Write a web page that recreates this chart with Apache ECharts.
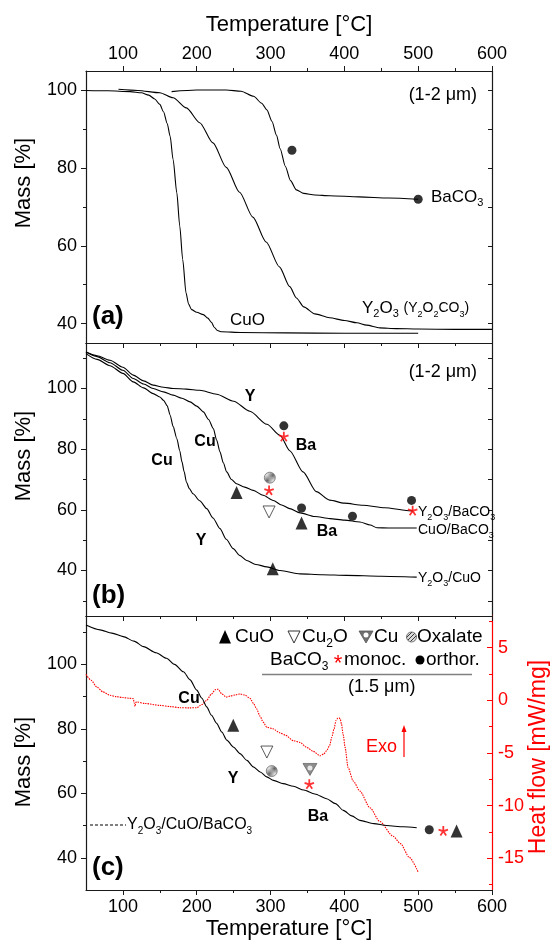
<!DOCTYPE html>
<html><head><meta charset="utf-8">
<script src="https://cdn.jsdelivr.net/npm/echarts@6/dist/echarts.min.js"></script>
<style>html,body{margin:0;padding:0;background:#fff}#c{width:555px;height:942px}</style>
</head><body><div id="c"></div>
<script>
// ---------------- DATA ----------------
const X_TICKS = [100, 200, 300, 400, 500, 600];
const X_MINOR = [150, 250, 350, 450, 550];
const Y_TICKS = [40, 60, 80, 100];
const Y_MINOR_A = [50, 70, 90];
const Y_MINOR_B = [30, 50, 70, 90, 110];
const Y_MINOR_C = [50, 70, 90, 110];
const Y_RIGHT_A = [40, 50, 60, 70, 80, 90, 100];
const Y_RIGHT_B = [30, 40, 50, 60, 70, 80, 90, 100, 110];
const HF_TICKS = [-15, -10, -5, 0, 5];
const HF_MINOR = [-17.5, -12.5, -7.5, -2.5, 2.5, 7.5];

// panel (a)
const T_A_CUO = [50, 80, 110, 125, 135, 143, 150, 155, 160, 164, 168, 173, 177, 181, 185.5, 189, 193, 200, 209, 215, 220, 224, 228, 234, 260, 320, 400, 500];
const M_A_CUO = [100, 99.9, 99.7, 99.4, 98.8, 97.8, 96.4, 94.5, 91.5, 88.2, 82.2, 73.7, 65.1, 56.5, 47.9, 45.0, 43.6, 42.9, 42.3, 41.4, 40.3, 39.0, 38.2, 37.9, 37.7, 37.6, 37.5, 37.5];
const T_A_Y = [94, 120, 150, 168, 186, 204, 222, 240, 258, 276, 294, 312, 326, 335, 345, 360, 380, 400, 417, 430, 448, 470, 500, 550, 600];
const M_A_Y = [100.3, 100.0, 99.4, 98.1, 95.5, 91.7, 86.5, 80.2, 73.8, 67.4, 61.0, 54.6, 49.5, 46.6, 44.3, 42.5, 41.5, 40.8, 40.2, 39.6, 38.9, 38.7, 38.6, 38.5, 38.5];
const T_A_BA = [166, 200, 240, 260, 277, 288, 295, 302, 308, 313, 320, 327, 335, 345, 360, 380, 420, 460, 500];
const M_A_BA = [99.7, 100.1, 100.1, 99.8, 98.5, 96.7, 95.0, 92.0, 88.5, 85.0, 80.5, 76.8, 74.4, 73.5, 73.1, 72.9, 72.6, 72.3, 72.0];
const DOTS_A = [[329, 84.6], [500, 72.0]];

// panel (b)
const T_B_YBA = [50, 65, 82.5, 100, 114, 128, 141, 155, 168, 186, 204, 227, 250, 272, 295, 313, 326, 344, 362, 380, 400, 425, 455, 484, 493];
const M_B_YBA = [112, 110.8, 109.3, 107, 104.4, 102.5, 101.1, 100.4, 100, 99.8, 99.4, 98.1, 95.8, 92.5, 88.2, 84.5, 79.5, 72.5, 66.0, 63.2, 62.2, 61.5, 60.7, 59.8, 59.6];
const T_B_CUBA = [50, 65, 82.5, 100, 114, 128, 141, 155, 168, 180, 191, 200, 209, 216, 222.5, 227, 231.5, 236, 240.6, 247, 254, 265, 276.6, 290, 303.7, 315, 326, 340, 360, 380.5, 400, 421, 435, 444, 460, 498];
const M_B_CUBA = [112, 110.5, 108.5, 106, 103.3, 101.5, 100, 98.9, 97.8, 96.8, 95.6, 94.2, 92.3, 89.8, 86.8, 83, 79.1, 75.5, 72.5, 70, 68.6, 67.5, 66.4, 64.8, 63.1, 61.6, 60.4, 59.0, 57.8, 57.1, 56.6, 56.0, 55.0, 54.1, 54.0, 54.0];
const T_B_YCU = [50, 65, 82.5, 100, 114, 128, 141, 150, 155, 160, 164, 168, 173, 177, 180, 183, 186, 190, 195, 204, 213.5, 222, 231.5, 240, 249.5, 258, 267.7, 280, 295, 313, 340, 370, 403, 450, 498];
const M_B_YCU = [111.5, 109.6, 107.5, 105, 102.2, 100.2, 98.3, 97.2, 96.1, 94.3, 91.2, 87.5, 83.5, 79.5, 75.8, 72.5, 69.2, 67, 65.3, 63, 60.4, 57.3, 53.8, 50.3, 47.2, 45, 43.3, 42, 41.2, 40, 38.9, 38.6, 38.4, 38.1, 37.8];
const DOTS_B = [[318, 87.7], [342, 60.6], [411, 57.9], [491, 63.1]];
const STARS_B = [[318, 84.1], [298, 66.4], [492.5, 59.7]];
const CUO_B = [[254, 65.7], [342, 55.7], [303, 40.6]];
const CU2O_B = [[298, 59.3]];
const OXAL_B = [[299, 70.6]];

// panel (c)
const T_C = [50, 69, 85, 100.5, 115, 128, 145, 159, 170, 182, 191, 200, 207, 213.5, 220, 227, 234, 240.6, 250, 258.6, 268, 276.6, 286, 294.8, 304, 317, 331, 345, 360, 376, 388, 398.6, 410, 421, 440, 457, 480, 498];
const M_C = [112.2, 110.7, 109.7, 108.6, 107.2, 105.5, 103.6, 101.9, 100, 97.7, 95.2, 92, 89.5, 86.8, 84.2, 81.7, 79.0, 76.5, 74.3, 72.3, 70.2, 68.2, 66.6, 65.1, 64.0, 63.0, 62.2, 61, 59.8, 58.3, 56.8, 54.7, 53, 51.6, 50.6, 50.0, 49.6, 49.3];
const T_HF = [50, 57, 64.5, 73, 82.5, 91, 100.5, 108, 114, 115.5, 116.4, 117.5, 118.6, 130, 150, 165, 177, 190, 200, 207, 213.5, 220, 225, 229, 234, 240, 245, 252, 258.6, 265, 272, 277, 281, 285.7, 290, 295, 303, 313, 320, 331, 340, 349, 358, 367, 372, 376, 380, 383, 386, 388.7, 391, 392.8, 394.5, 396, 398.5, 401, 405, 412, 421, 434.7, 448, 466, 476, 488, 500];
const H_HF = [2.46, 1.9, 1.27, 0.8, 0.48, 0.35, 0.26, 0.2, 0.16, -0.3, -0.57, -0.2, -0.16, -0.3, -0.48, -0.6, -0.7, -0.72, -0.7, -0.4, 0, 0.6, 1.0, 1.05, 0.6, 0.3, 0.4, 0.5, 0.6, 0.5, 0.2, -0.3, -0.8, -1.5, -2.07, -2.55, -2.7, -3.1, -3.3, -3.83, -4.0, -4.47, -4.85, -5.26, -5.1, -4.78, -4.3, -3.51, -2.7, -1.91, -1.7, -1.66, -1.8, -2.23, -3.3, -4.47, -6.38, -7.66, -8.61, -10.2, -11.5, -12.9, -13.6, -14.9, -16.3];
const CUO_C = [[249.5, 81.1], [552, 48.3]];
const CU2O_C = [[295, 72.8]];
const OXAL_C = [[301.6, 66.9]];
const CU_C = [[353.4, 67.4]];
const STARS_C = [[352.5, 62.8], [534, 48.3]];
const DOTS_C = [[515, 48.7]];

// ---------------- CHART ----------------
const FF = '"Liberation Sans", Arial, Helvetica, sans-serif';
const AX = '#1a1a1a';
const RED = '#ff0000';
const zip = (a, b) => a.map((v, i) => [v, b[i]]);

function hatchCanvas() {
  const c = document.createElement('canvas'); c.width = 4; c.height = 4;
  const g = c.getContext('2d');
  g.fillStyle = '#d8d8d8'; g.fillRect(0, 0, 4, 4);
  g.strokeStyle = '#3a3a3a'; g.lineWidth = 1;
  g.beginPath(); g.moveTo(0, 4); g.lineTo(4, 0); g.moveTo(-1, 1); g.lineTo(1, -1); g.moveTo(3, 5); g.lineTo(5, 3); g.stroke();
  return c;
}
const HATCH = {image: hatchCanvas(), repeat: 'repeat'};

function starPath() {
  const cx = 50, cy = 50, L = 50, w = 9; let p = '';
  for (let k = 0; k < 5; k++) {
    const a = k * 72 * Math.PI / 180;
    const dx = Math.sin(a), dy = -Math.cos(a), nx = -dy, ny = dx;
    const pts = [[cx + nx * w, cy + ny * w], [cx + nx * w + dx * L, cy + ny * w + dy * L], [cx - nx * w + dx * L, cy - ny * w + dy * L], [cx - nx * w, cy - ny * w]];
    p += 'M' + pts.map(q => q[0].toFixed(1) + ',' + q[1].toFixed(1)).join('L') + 'Z';
  }
  return 'path://' + p;
}
const STAR = starPath();

const GR = [{top: 71, height: 272}, {top: 343, height: 273}, {top: 616, height: 274}];
const YR = [[35, 105], [25, 115], [30, 115]];
const grid = GR.map(g => ({left: 86, right: 63, top: g.top, height: g.height, containLabel: false}));

const LINE = {show: true, onZero: false, lineStyle: {color: AX, width: 1.2}};
const tk = (vals, len, inside, color) => ({show: true, customValues: vals, length: len, inside: !!inside, lineStyle: {color: color || AX, width: 1}});
const lbl = (vals, margin, color) => ({show: true, customValues: vals, margin: margin, fontSize: 18, color: color || '#000', fontFamily: FF});
function xa(g, pos, o) {
  return Object.assign({type: 'value', gridIndex: g, position: pos, min: 50, max: 600,
    axisLine: {show: false, onZero: false}, axisTick: {show: false}, axisLabel: {show: false}, splitLine: {show: false}}, o);
}
function ya(g, pos, o, mm) {
  const r = mm || YR[g];
  return Object.assign({type: 'value', gridIndex: g, position: pos, min: r[0], max: r[1],
    axisLine: {show: false, onZero: false}, axisTick: {show: false}, axisLabel: {show: false}, splitLine: {show: false}}, o);
}
const TNAME = {name: 'Temperature [°C]', nameLocation: 'middle', nameTextStyle: {fontSize: 22, color: '#000', fontFamily: FF}};

const xAxis = [
  xa(0, 'bottom', {axisLine: LINE}),                                                         // 0
  xa(0, 'top', Object.assign({axisLine: LINE, axisTick: tk(X_TICKS, 5), axisLabel: lbl(X_TICKS, 8), nameGap: 35}, TNAME)), // 1
  xa(0, 'top', {axisTick: tk(X_MINOR, 3)}),                                                  // 2
  xa(1, 'bottom', {axisLine: LINE}),                                                         // 3
  xa(1, 'top', {axisLine: LINE, axisTick: tk(X_TICKS, 5, true)}),                            // 4
  xa(1, 'top', {axisTick: tk(X_MINOR, 3, true)}),                                            // 5
  xa(2, 'bottom', Object.assign({axisLine: LINE, axisTick: tk(X_TICKS, 5), axisLabel: lbl(X_TICKS, 8), nameGap: 28}, TNAME)), // 6
  xa(2, 'bottom', {axisTick: tk(X_MINOR, 3)}),                                               // 7
  xa(2, 'top', {axisLine: LINE, axisTick: tk(X_TICKS, 5, true)}),                            // 8
  xa(2, 'top', {axisTick: tk(X_MINOR, 3, true)})                                             // 9
];
const yAxis = [
  ya(0, 'left', {axisLine: LINE, axisTick: tk(Y_TICKS, 5), axisLabel: lbl(Y_TICKS, 9)}),     // 0
  ya(0, 'left', {axisTick: tk(Y_MINOR_A, 3)}),                                              // 1
  ya(0, 'right', {axisLine: LINE, axisTick: tk(Y_RIGHT_A, 4, true)}),                       // 2
  ya(1, 'left', {axisLine: LINE, axisTick: tk(Y_TICKS, 5), axisLabel: lbl(Y_TICKS, 9)}),     // 3
  ya(1, 'left', {axisTick: tk(Y_MINOR_B, 3)}),                                              // 4
  ya(1, 'right', {axisLine: LINE, axisTick: tk(Y_RIGHT_B, 4, true)}),                       // 5
  ya(2, 'left', {axisLine: LINE, axisTick: tk(Y_TICKS, 5), axisLabel: lbl(Y_TICKS, 9)}),     // 6
  ya(2, 'left', {axisTick: tk(Y_MINOR_C, 3)}),                                              // 7
  ya(2, 'right', {axisLine: {show: true, onZero: false, lineStyle: {color: RED, width: 1.2}}, axisTick: tk(HF_TICKS, 5, true, RED), axisLabel: lbl(HF_TICKS, 6, RED)}, [-18, 8]), // 8
  ya(2, 'right', {axisTick: tk(HF_MINOR, 3, true, RED)}, [-18, 8])                          // 9
];

function curve(g, T, M, yi, style) {
  return {type: 'line', xAxisIndex: g * 3, yAxisIndex: yi === undefined ? g * 3 : yi, data: zip(T, M),
    symbol: 'none', smooth: 0.25, smoothMonotone: 'x', silent: true, z: 3,
    lineStyle: Object.assign({color: '#000', width: 1.1}, style || {})};
}
function pts(g, data, o) {
  return Object.assign({type: 'scatter', xAxisIndex: g * 3, yAxisIndex: g * 3, data: data, silent: true, z: 5}, o);
}
const DOT = {symbol: 'circle', symbolSize: 9, itemStyle: {color: '#000'}};
const TRI = {symbol: 'triangle', symbolSize: [12, 13], itemStyle: {color: '#000'}};
const OTRI = {symbol: 'triangle', symbolRotate: 180, symbolSize: [12, 12], itemStyle: {color: '#fff', borderColor: '#333', borderWidth: 1}};
const OXL = {symbol: 'circle', symbolSize: 11, itemStyle: {color: HATCH, borderColor: '#555', borderWidth: 0.8}};
const STR = {symbol: STAR, symbolSize: 10, itemStyle: {color: RED}};

const series = [
  curve(0, T_A_CUO, M_A_CUO), curve(0, T_A_Y, M_A_Y), curve(0, T_A_BA, M_A_BA),
  pts(0, DOTS_A, DOT),
  curve(1, T_B_YBA, M_B_YBA), curve(1, T_B_CUBA, M_B_CUBA), curve(1, T_B_YCU, M_B_YCU),
  pts(1, DOTS_B, DOT), pts(1, STARS_B, STR), pts(1, CUO_B, TRI), pts(1, CU2O_B, OTRI), pts(1, OXAL_B, OXL),
  curve(2, T_HF, H_HF, 8, {color: RED, width: 1.1, type: [1.5, 1]}),
  curve(2, T_C, M_C),
  pts(2, CUO_C, TRI), pts(2, CU2O_C, OTRI), pts(2, OXAL_C, OXL),
  pts(2, CU_C, {symbol: 'triangle', symbolRotate: 180, symbolSize: [14, 12], itemStyle: {color: '#707070', borderColor: '#555', borderWidth: 0.8}}),
  pts(2, CU_C, {symbol: 'circle', symbolSize: 5, symbolOffset: [0, -1.5], z: 6, itemStyle: {color: '#fff'}}),
  pts(2, STARS_C, STR), pts(2, DOTS_C, DOT)
];

// ---------------- TEXT / ANNOTATIONS ----------------
function chem(segs, color) {
  // segs: [[string, size]], "_d" marks a subscript digit
  const rich = {}; let text = ''; let maxLh = 0;
  segs.forEach((s, i) => {
    const size = s[1], sub = Math.round(size * 0.65), lh = size + 6;
    maxLh = Math.max(maxLh, lh);
    rich['n' + i] = {fontSize: size, fontFamily: FF, fill: color, lineHeight: lh};
    rich['s' + i] = {fontSize: sub, fontFamily: FF, fill: color, lineHeight: sub, verticalAlign: 'bottom'};
    s[0].split(/(_\d)/).forEach(part => {
      if (!part) return;
      if (part[0] === '_') text += '{s' + i + '|' + part.slice(1) + '}';
      else text += '{n' + i + '|' + part + '}';
    });
  });
  return {text: text, rich: rich};
}
function T(x, y, text, size, o) {
  o = o || {};
  const st = {text: text, x: 0, y: 0, fill: o.color || '#000', font: (o.bold ? 'bold ' : '') + size + 'px ' + FF,
    align: o.align || 'left', verticalAlign: 'middle', textAlign: o.align || 'left', textVerticalAlign: 'middle'};
  return {type: 'text', x: x, y: y, rotation: o.rot || 0, z: 100, style: st, silent: true};
}
function C(x, y, segs, o) {
  o = o || {};
  const r = chem(segs, o.color || '#000');
  return {type: 'text', x: x, y: y, z: 100, silent: true,
    style: {text: r.text, rich: r.rich, x: 0, y: 0, fill: o.color || '#000', align: o.align || 'left', verticalAlign: 'middle', textAlign: o.align || 'left', textVerticalAlign: 'middle'}};
}
const graphic = [
  // axis titles
  T(24, 183, 'Mass [%]', 22, {align: 'center', rot: Math.PI / 2}),
  T(24, 456, 'Mass [%]', 22, {align: 'center', rot: Math.PI / 2}),
  T(24, 762, 'Mass [%]', 22, {align: 'center', rot: Math.PI / 2}),
  T(539, 757, 'Heat flow [mW/mg]', 23, {align: 'center', rot: Math.PI / 2, color: RED}),
  // panel a
  T(92, 317, '(a)', 26, {bold: true}),
  T(477, 95, '(1-2 μm)', 18, {align: 'right'}),
  C(431, 197, [['BaCO_3', 17]]),
  C(362, 308, [['Y_2O_3 ', 17], ['(Y_2O_2CO_3)', 14]]),
  T(230, 320, 'CuO', 17),
  // panel b
  T(92, 596, '(b)', 26, {bold: true}),
  T(477, 372, '(1-2 μm)', 18, {align: 'right'}),
  C(418, 512, [['Y_2O_3/BaCO_3', 14]]),
  C(418, 530, [['CuO/BaCO_3', 14]]),
  C(418, 578, [['Y_2O_3/CuO', 14]]),
  T(250, 397, 'Y', 16, {bold: true, align: 'center'}),
  T(205, 442, 'Cu', 16, {bold: true, align: 'center'}),
  T(162, 461, 'Cu', 16, {bold: true, align: 'center'}),
  T(201, 541, 'Y', 16, {bold: true, align: 'center'}),
  T(306, 446, 'Ba', 16, {bold: true, align: 'center'}),
  T(327, 532, 'Ba', 16, {bold: true, align: 'center'}),
  // panel c
  T(92, 868, '(c)', 26, {bold: true}),
  T(189, 699, 'Cu', 16, {bold: true, align: 'center'}),
  T(233, 779, 'Y', 16, {bold: true, align: 'center'}),
  T(318, 817, 'Ba', 16, {bold: true, align: 'center'}),
  {type: 'line', silent: true, shape: {x1: 90, y1: 825, x2: 126, y2: 825}, style: {stroke: '#000', lineWidth: 1, lineDash: [3, 2]}},
  C(127, 825, [['Y_2O_3/CuO/BaCO_3', 16]]),
  // legend (c)
  {type: 'polygon', silent: true, shape: {points: [[219, 643.5], [231, 643.5], [225, 630]]}, style: {fill: '#000'}},
  T(235, 637, 'CuO', 19),
  {type: 'polygon', silent: true, shape: {points: [[288, 631], [300, 631], [294, 643]]}, style: {fill: '#fff', stroke: '#333', lineWidth: 1}},
  C(302, 637, [['Cu_2O', 19]]),
  {type: 'polygon', silent: true, shape: {points: [[359, 631], [373, 631], [366, 643]]}, style: {fill: '#707070', stroke: '#555', lineWidth: 0.8}},
  {type: 'circle', silent: true, z: 101, shape: {cx: 366, cy: 635, r: 2.5}, style: {fill: '#fff'}},
  T(374, 637, 'Cu', 19),
  {type: 'circle', silent: true, shape: {cx: 411.5, cy: 637, r: 5}, style: {fill: HATCH, stroke: '#555', lineWidth: 0.8}},
  T(417, 637, 'Oxalate', 19),
  C(270, 660, [['BaCO_3', 19]]),
  T(338, 664, '*', 22, {align: 'center', color: RED}),
  T(344, 660, 'monoc.', 19),
  {type: 'circle', silent: true, shape: {cx: 420, cy: 660, r: 4.5}, style: {fill: '#000'}},
  T(426, 660, 'orthor.', 19),
  {type: 'line', silent: true, shape: {x1: 262, y1: 674.5, x2: 472, y2: 674.5}, style: {stroke: '#808080', lineWidth: 1.5}},
  T(348, 687.5, '(1.5 μm)', 18),
  T(366, 747, 'Exo', 18, {color: RED}),
  {type: 'line', silent: true, shape: {x1: 404, y1: 757, x2: 404, y2: 730}, style: {stroke: RED, lineWidth: 1.2}},
  {type: 'polygon', silent: true, shape: {points: [[401.5, 732], [406.5, 732], [404, 725]]}, style: {fill: RED}}
];

const chart = echarts.init(document.getElementById('c'), null, {renderer: 'canvas'});
chart.setOption({animation: false, backgroundColor: '#fff', grid: grid, xAxis: xAxis, yAxis: yAxis, series: series, graphic: graphic});
</script></body></html>
